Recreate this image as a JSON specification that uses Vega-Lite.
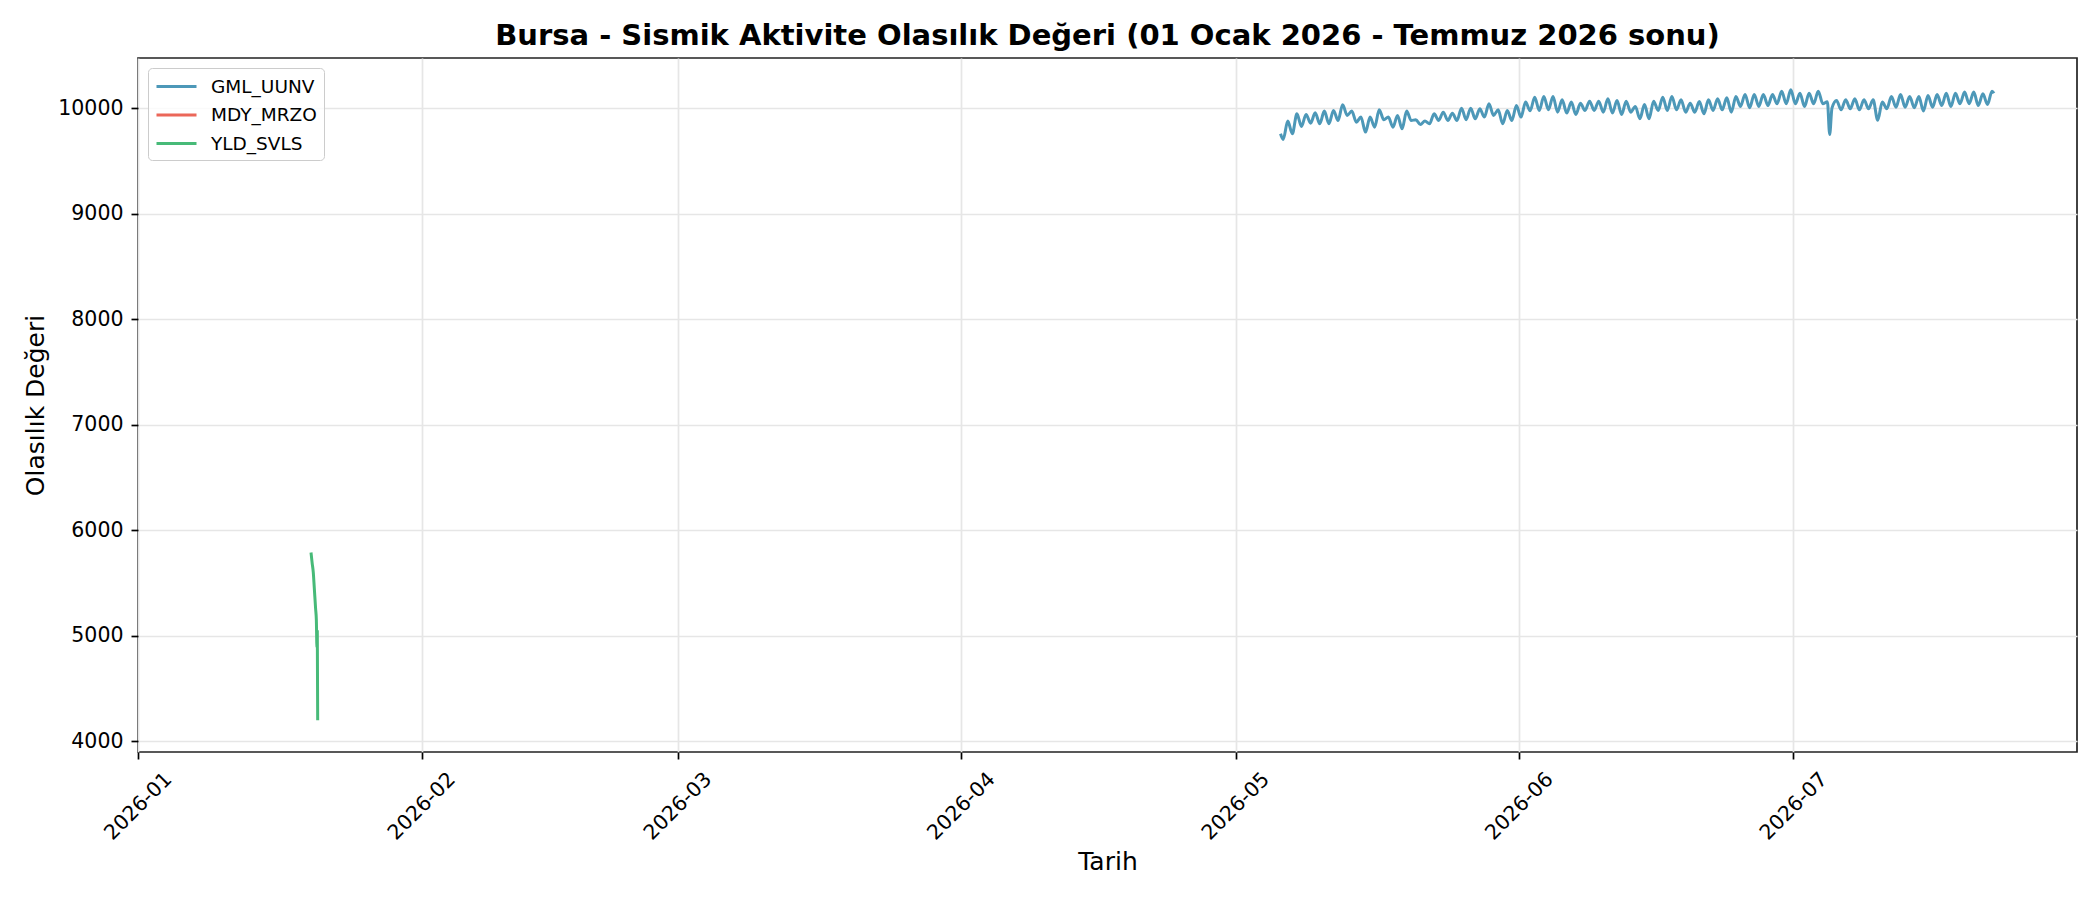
{
  "$schema": "https://vega.github.io/schema/vega-lite/v6.json",
  "width": 1939,
  "height": 694,
  "autosize": {"type": "none"},
  "padding": {"left": 138, "top": 58, "right": 23, "bottom": 148},
  "background": "white",
  "title": {
    "text": "Bursa - Sismik Aktivite Olasılık Değeri (01 Ocak 2026 - Temmuz 2026 sonu)",
    "font": "DejaVu Sans",
    "fontSize": 29,
    "fontWeight": "bold",
    "color": "#000",
    "anchor": "middle",
    "frame": "group",
    "baseline": "alphabetic",
    "offset": 13,
    "dy": 29
  },
  "config": {
    "view": {"stroke": "#222", "strokeWidth": 1.7},
    "axis": {
      "domain": false,
      "gridColor": "#e6e6e6",
      "gridWidth": 1.7,
      "tickColor": "#000",
      "tickWidth": 1.7,
      "tickSize": 7,
      "labelFont": "DejaVu Sans",
      "labelFontSize": 20.5,
      "labelColor": "#000",
      "titleFont": "DejaVu Sans",
      "titleFontSize": 25,
      "titleFontWeight": "normal",
      "titleColor": "#000"
    },
    "legend": {
      "orient": "top-left",
      "offset": 10,
      "padding": 7,
      "rowPadding": 7.5,
      "symbolType": "M-1,0H3",
      "symbolSize": 400,
      "symbolStrokeWidth": 3,
      "labelFont": "DejaVu Sans",
      "labelFontSize": 18.5,
      "labelColor": "#000",
      "labelOffset": 33,
      "labelLimit": 0,
      "strokeColor": "#cccccc",
      "fillColor": "rgba(255,255,255,0.8)",
      "cornerRadius": 4
    }
  },
  "data": {
    "values": [
      {"t": "2026-01-19T22:00Z", "v": 5790, "s": "YLD_SVLS"},
      {"t": "2026-01-20T01:00Z", "v": 5690, "s": "YLD_SVLS"},
      {"t": "2026-01-20T04:00Z", "v": 5600, "s": "YLD_SVLS"},
      {"t": "2026-01-20T06:30Z", "v": 5460, "s": "YLD_SVLS"},
      {"t": "2026-01-20T10:00Z", "v": 5260, "s": "YLD_SVLS"},
      {"t": "2026-01-20T12:00Z", "v": 5150, "s": "YLD_SVLS"},
      {"t": "2026-01-20T13:30Z", "v": 4890, "s": "YLD_SVLS"},
      {"t": "2026-01-20T14:30Z", "v": 5040, "s": "YLD_SVLS"},
      {"t": "2026-01-20T15:30Z", "v": 4200, "s": "YLD_SVLS"},

      {"t": "2026-05-05T22:00Z", "v": 9757, "s": "GML_UUNV"},
      {"t": "2026-05-06T05:00Z", "v": 9703, "s": "GML_UUNV"},
      {"t": "2026-05-06T17:00Z", "v": 9877, "s": "GML_UUNV"},
      {"t": "2026-05-07T05:00Z", "v": 9757, "s": "GML_UUNV"},
      {"t": "2026-05-07T17:00Z", "v": 9946, "s": "GML_UUNV"},
      {"t": "2026-05-08T05:00Z", "v": 9826, "s": "GML_UUNV"},
      {"t": "2026-05-08T17:00Z", "v": 9940, "s": "GML_UUNV"},
      {"t": "2026-05-09T05:00Z", "v": 9858, "s": "GML_UUNV"},
      {"t": "2026-05-09T17:00Z", "v": 9956, "s": "GML_UUNV"},
      {"t": "2026-05-10T05:00Z", "v": 9852, "s": "GML_UUNV"},
      {"t": "2026-05-10T17:00Z", "v": 9972, "s": "GML_UUNV"},
      {"t": "2026-05-11T05:00Z", "v": 9852, "s": "GML_UUNV"},
      {"t": "2026-05-11T17:00Z", "v": 9978, "s": "GML_UUNV"},
      {"t": "2026-05-12T05:00Z", "v": 9883, "s": "GML_UUNV"},
      {"t": "2026-05-12T17:00Z", "v": 10032, "s": "GML_UUNV"},
      {"t": "2026-05-13T05:00Z", "v": 9931, "s": "GML_UUNV"},
      {"t": "2026-05-13T17:00Z", "v": 9972, "s": "GML_UUNV"},
      {"t": "2026-05-14T05:00Z", "v": 9867, "s": "GML_UUNV"},
      {"t": "2026-05-14T17:00Z", "v": 9915, "s": "GML_UUNV"},
      {"t": "2026-05-15T05:00Z", "v": 9773, "s": "GML_UUNV"},
      {"t": "2026-05-15T17:00Z", "v": 9915, "s": "GML_UUNV"},
      {"t": "2026-05-16T05:00Z", "v": 9820, "s": "GML_UUNV"},
      {"t": "2026-05-16T17:00Z", "v": 9984, "s": "GML_UUNV"},
      {"t": "2026-05-17T05:00Z", "v": 9890, "s": "GML_UUNV"},
      {"t": "2026-05-17T17:00Z", "v": 9915, "s": "GML_UUNV"},
      {"t": "2026-05-18T05:00Z", "v": 9820, "s": "GML_UUNV"},
      {"t": "2026-05-18T17:00Z", "v": 9931, "s": "GML_UUNV"},
      {"t": "2026-05-19T05:00Z", "v": 9804, "s": "GML_UUNV"},
      {"t": "2026-05-19T17:00Z", "v": 9972, "s": "GML_UUNV"},
      {"t": "2026-05-20T05:00Z", "v": 9883, "s": "GML_UUNV"},
      {"t": "2026-05-20T17:00Z", "v": 9890, "s": "GML_UUNV"},
      {"t": "2026-05-21T05:00Z", "v": 9845, "s": "GML_UUNV"},
      {"t": "2026-05-21T17:00Z", "v": 9877, "s": "GML_UUNV"},
      {"t": "2026-05-22T05:00Z", "v": 9852, "s": "GML_UUNV"},
      {"t": "2026-05-22T17:00Z", "v": 9946, "s": "GML_UUNV"},
      {"t": "2026-05-23T05:00Z", "v": 9883, "s": "GML_UUNV"},
      {"t": "2026-05-23T17:00Z", "v": 9962, "s": "GML_UUNV"},
      {"t": "2026-05-24T05:00Z", "v": 9883, "s": "GML_UUNV"},
      {"t": "2026-05-24T17:00Z", "v": 9952, "s": "GML_UUNV"},
      {"t": "2026-05-25T05:00Z", "v": 9883, "s": "GML_UUNV"},
      {"t": "2026-05-25T17:00Z", "v": 10000, "s": "GML_UUNV"},
      {"t": "2026-05-26T05:00Z", "v": 9890, "s": "GML_UUNV"},
      {"t": "2026-05-26T17:00Z", "v": 10000, "s": "GML_UUNV"},
      {"t": "2026-05-27T05:00Z", "v": 9899, "s": "GML_UUNV"},
      {"t": "2026-05-27T17:00Z", "v": 9994, "s": "GML_UUNV"},
      {"t": "2026-05-28T05:00Z", "v": 9915, "s": "GML_UUNV"},
      {"t": "2026-05-28T17:00Z", "v": 10041, "s": "GML_UUNV"},
      {"t": "2026-05-29T05:00Z", "v": 9931, "s": "GML_UUNV"},
      {"t": "2026-05-29T17:00Z", "v": 9984, "s": "GML_UUNV"},
      {"t": "2026-05-30T05:00Z", "v": 9852, "s": "GML_UUNV"},
      {"t": "2026-05-30T17:00Z", "v": 9978, "s": "GML_UUNV"},
      {"t": "2026-05-31T05:00Z", "v": 9883, "s": "GML_UUNV"},
      {"t": "2026-05-31T17:00Z", "v": 10025, "s": "GML_UUNV"},
      {"t": "2026-06-01T05:00Z", "v": 9915, "s": "GML_UUNV"},
      {"t": "2026-06-01T17:00Z", "v": 10057, "s": "GML_UUNV"},
      {"t": "2026-06-02T05:00Z", "v": 9975, "s": "GML_UUNV"},
      {"t": "2026-06-02T17:00Z", "v": 10104, "s": "GML_UUNV"},
      {"t": "2026-06-03T05:00Z", "v": 9978, "s": "GML_UUNV"},
      {"t": "2026-06-03T17:00Z", "v": 10110, "s": "GML_UUNV"},
      {"t": "2026-06-04T05:00Z", "v": 9984, "s": "GML_UUNV"},
      {"t": "2026-06-04T17:00Z", "v": 10110, "s": "GML_UUNV"},
      {"t": "2026-06-05T05:00Z", "v": 9962, "s": "GML_UUNV"},
      {"t": "2026-06-05T17:00Z", "v": 10079, "s": "GML_UUNV"},
      {"t": "2026-06-06T05:00Z", "v": 9953, "s": "GML_UUNV"},
      {"t": "2026-06-06T17:00Z", "v": 10057, "s": "GML_UUNV"},
      {"t": "2026-06-07T05:00Z", "v": 9940, "s": "GML_UUNV"},
      {"t": "2026-06-07T17:00Z", "v": 10047, "s": "GML_UUNV"},
      {"t": "2026-06-08T05:00Z", "v": 9978, "s": "GML_UUNV"},
      {"t": "2026-06-08T17:00Z", "v": 10066, "s": "GML_UUNV"},
      {"t": "2026-06-09T05:00Z", "v": 9978, "s": "GML_UUNV"},
      {"t": "2026-06-09T17:00Z", "v": 10066, "s": "GML_UUNV"},
      {"t": "2026-06-10T05:00Z", "v": 9962, "s": "GML_UUNV"},
      {"t": "2026-06-10T17:00Z", "v": 10088, "s": "GML_UUNV"},
      {"t": "2026-06-11T05:00Z", "v": 9953, "s": "GML_UUNV"},
      {"t": "2026-06-11T17:00Z", "v": 10073, "s": "GML_UUNV"},
      {"t": "2026-06-12T05:00Z", "v": 9940, "s": "GML_UUNV"},
      {"t": "2026-06-12T17:00Z", "v": 10066, "s": "GML_UUNV"},
      {"t": "2026-06-13T05:00Z", "v": 9962, "s": "GML_UUNV"},
      {"t": "2026-06-13T17:00Z", "v": 10016, "s": "GML_UUNV"},
      {"t": "2026-06-14T05:00Z", "v": 9899, "s": "GML_UUNV"},
      {"t": "2026-06-14T17:00Z", "v": 10035, "s": "GML_UUNV"},
      {"t": "2026-06-15T05:00Z", "v": 9899, "s": "GML_UUNV"},
      {"t": "2026-06-15T17:00Z", "v": 10066, "s": "GML_UUNV"},
      {"t": "2026-06-16T05:00Z", "v": 9978, "s": "GML_UUNV"},
      {"t": "2026-06-16T17:00Z", "v": 10104, "s": "GML_UUNV"},
      {"t": "2026-06-17T05:00Z", "v": 9978, "s": "GML_UUNV"},
      {"t": "2026-06-17T17:00Z", "v": 10110, "s": "GML_UUNV"},
      {"t": "2026-06-18T05:00Z", "v": 9984, "s": "GML_UUNV"},
      {"t": "2026-06-18T17:00Z", "v": 10079, "s": "GML_UUNV"},
      {"t": "2026-06-19T05:00Z", "v": 9962, "s": "GML_UUNV"},
      {"t": "2026-06-19T17:00Z", "v": 10047, "s": "GML_UUNV"},
      {"t": "2026-06-20T05:00Z", "v": 9962, "s": "GML_UUNV"},
      {"t": "2026-06-20T17:00Z", "v": 10063, "s": "GML_UUNV"},
      {"t": "2026-06-21T05:00Z", "v": 9946, "s": "GML_UUNV"},
      {"t": "2026-06-21T17:00Z", "v": 10079, "s": "GML_UUNV"},
      {"t": "2026-06-22T05:00Z", "v": 9978, "s": "GML_UUNV"},
      {"t": "2026-06-22T17:00Z", "v": 10088, "s": "GML_UUNV"},
      {"t": "2026-06-23T05:00Z", "v": 9984, "s": "GML_UUNV"},
      {"t": "2026-06-23T17:00Z", "v": 10098, "s": "GML_UUNV"},
      {"t": "2026-06-24T05:00Z", "v": 9962, "s": "GML_UUNV"},
      {"t": "2026-06-24T17:00Z", "v": 10110, "s": "GML_UUNV"},
      {"t": "2026-06-25T05:00Z", "v": 10016, "s": "GML_UUNV"},
      {"t": "2026-06-25T17:00Z", "v": 10129, "s": "GML_UUNV"},
      {"t": "2026-06-26T05:00Z", "v": 10003, "s": "GML_UUNV"},
      {"t": "2026-06-26T17:00Z", "v": 10129, "s": "GML_UUNV"},
      {"t": "2026-06-27T05:00Z", "v": 10016, "s": "GML_UUNV"},
      {"t": "2026-06-27T17:00Z", "v": 10129, "s": "GML_UUNV"},
      {"t": "2026-06-28T05:00Z", "v": 10025, "s": "GML_UUNV"},
      {"t": "2026-06-28T17:00Z", "v": 10129, "s": "GML_UUNV"},
      {"t": "2026-06-29T05:00Z", "v": 10041, "s": "GML_UUNV"},
      {"t": "2026-06-29T17:00Z", "v": 10161, "s": "GML_UUNV"},
      {"t": "2026-06-30T05:00Z", "v": 10041, "s": "GML_UUNV"},
      {"t": "2026-06-30T17:00Z", "v": 10174, "s": "GML_UUNV"},
      {"t": "2026-07-01T05:00Z", "v": 10041, "s": "GML_UUNV"},
      {"t": "2026-07-01T17:00Z", "v": 10142, "s": "GML_UUNV"},
      {"t": "2026-07-02T05:00Z", "v": 10016, "s": "GML_UUNV"},
      {"t": "2026-07-02T17:00Z", "v": 10142, "s": "GML_UUNV"},
      {"t": "2026-07-03T05:00Z", "v": 10041, "s": "GML_UUNV"},
      {"t": "2026-07-03T17:00Z", "v": 10161, "s": "GML_UUNV"},
      {"t": "2026-07-04T05:00Z", "v": 10041, "s": "GML_UUNV"},
      {"t": "2026-07-04T17:00Z", "v": 10060, "s": "GML_UUNV"},
      {"t": "2026-07-04T23:00Z", "v": 9750, "s": "GML_UUNV"},
      {"t": "2026-07-05T05:00Z", "v": 10000, "s": "GML_UUNV"},
      {"t": "2026-07-05T17:00Z", "v": 10073, "s": "GML_UUNV"},
      {"t": "2026-07-06T05:00Z", "v": 9984, "s": "GML_UUNV"},
      {"t": "2026-07-06T17:00Z", "v": 10079, "s": "GML_UUNV"},
      {"t": "2026-07-07T05:00Z", "v": 9994, "s": "GML_UUNV"},
      {"t": "2026-07-07T17:00Z", "v": 10088, "s": "GML_UUNV"},
      {"t": "2026-07-08T05:00Z", "v": 9984, "s": "GML_UUNV"},
      {"t": "2026-07-08T17:00Z", "v": 10079, "s": "GML_UUNV"},
      {"t": "2026-07-09T05:00Z", "v": 9994, "s": "GML_UUNV"},
      {"t": "2026-07-09T17:00Z", "v": 10079, "s": "GML_UUNV"},
      {"t": "2026-07-10T05:00Z", "v": 9885, "s": "GML_UUNV"},
      {"t": "2026-07-10T17:00Z", "v": 10057, "s": "GML_UUNV"},
      {"t": "2026-07-11T05:00Z", "v": 9994, "s": "GML_UUNV"},
      {"t": "2026-07-11T17:00Z", "v": 10110, "s": "GML_UUNV"},
      {"t": "2026-07-12T05:00Z", "v": 10009, "s": "GML_UUNV"},
      {"t": "2026-07-12T17:00Z", "v": 10129, "s": "GML_UUNV"},
      {"t": "2026-07-13T05:00Z", "v": 10009, "s": "GML_UUNV"},
      {"t": "2026-07-13T17:00Z", "v": 10110, "s": "GML_UUNV"},
      {"t": "2026-07-14T05:00Z", "v": 10003, "s": "GML_UUNV"},
      {"t": "2026-07-14T17:00Z", "v": 10110, "s": "GML_UUNV"},
      {"t": "2026-07-15T05:00Z", "v": 9972, "s": "GML_UUNV"},
      {"t": "2026-07-15T17:00Z", "v": 10120, "s": "GML_UUNV"},
      {"t": "2026-07-16T05:00Z", "v": 10009, "s": "GML_UUNV"},
      {"t": "2026-07-16T17:00Z", "v": 10129, "s": "GML_UUNV"},
      {"t": "2026-07-17T05:00Z", "v": 10025, "s": "GML_UUNV"},
      {"t": "2026-07-17T17:00Z", "v": 10142, "s": "GML_UUNV"},
      {"t": "2026-07-18T05:00Z", "v": 10016, "s": "GML_UUNV"},
      {"t": "2026-07-18T17:00Z", "v": 10142, "s": "GML_UUNV"},
      {"t": "2026-07-19T05:00Z", "v": 10041, "s": "GML_UUNV"},
      {"t": "2026-07-19T17:00Z", "v": 10152, "s": "GML_UUNV"},
      {"t": "2026-07-20T05:00Z", "v": 10041, "s": "GML_UUNV"},
      {"t": "2026-07-20T17:00Z", "v": 10152, "s": "GML_UUNV"},
      {"t": "2026-07-21T05:00Z", "v": 10025, "s": "GML_UUNV"},
      {"t": "2026-07-21T17:00Z", "v": 10136, "s": "GML_UUNV"},
      {"t": "2026-07-22T05:00Z", "v": 10035, "s": "GML_UUNV"},
      {"t": "2026-07-22T17:00Z", "v": 10161, "s": "GML_UUNV"},
      {"t": "2026-07-22T22:00Z", "v": 10140, "s": "GML_UUNV"}
    ]
  },
  "mark": {"type": "line", "strokeWidth": 3, "interpolate": "monotone"},
  "encoding": {
    "x": {
      "field": "t",
      "type": "temporal",
      "title": "Tarih",
      "scale": {
        "type": "utc",
        "domain": [
          {"year": 2026, "month": 1, "date": 1, "utc": true},
          {"year": 2026, "month": 7, "date": 31, "hours": 23, "minutes": 59, "utc": true}
        ]
      },
      "axis": {
        "values": [
          {"year": 2026, "month": 1, "date": 1, "utc": true},
          {"year": 2026, "month": 2, "date": 1, "utc": true},
          {"year": 2026, "month": 3, "date": 1, "utc": true},
          {"year": 2026, "month": 4, "date": 1, "utc": true},
          {"year": 2026, "month": 5, "date": 1, "utc": true},
          {"year": 2026, "month": 6, "date": 1, "utc": true},
          {"year": 2026, "month": 7, "date": 1, "utc": true}
        ],
        "labelExpr": "utcFormat(datum.value, '%Y-%m')",
        "labelAngle": -45,
        "labelAlign": "center",
        "labelBaseline": "middle",
        "labelPadding": 47,
        "labelOverlap": false,
        "labelBound": false,
        "labelFlush": false,
        "titleY": 117,
        "titleBaseline": "alphabetic"
      }
    },
    "y": {
      "field": "v",
      "type": "quantitative",
      "title": "Olasılık Değeri",
      "scale": {"domain": [3900, 10475], "nice": false, "zero": false},
      "axis": {
        "values": [4000, 5000, 6000, 7000, 8000, 9000, 10000],
        "format": "d",
        "labelPadding": 8,
        "labelBaseline": "middle",
        "titleX": -95,
        "titleBaseline": "alphabetic"
      }
    },
    "color": {
      "field": "s",
      "type": "nominal",
      "title": null,
      "scale": {
        "domain": ["GML_UUNV", "MDY_MRZO", "YLD_SVLS"],
        "range": ["#4d98b8", "#eb6759", "#47ba78"]
      }
    }
  }
}
